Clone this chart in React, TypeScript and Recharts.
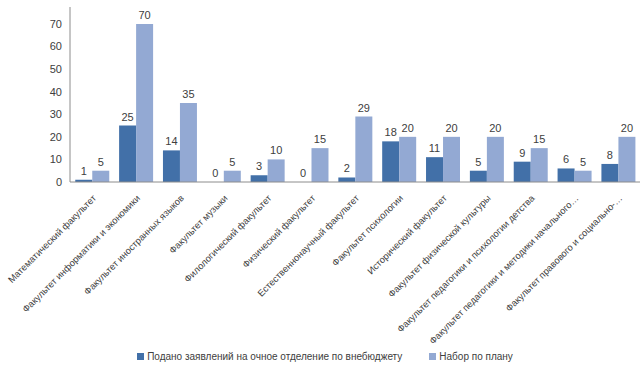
import { Bar, BarChart, Legend, XAxis, YAxis } from "recharts";

const faculties = [
  "Математический факультет",
  "Факультет информатики и экономики",
  "Факультет иностранных языков",
  "Факультет музыки",
  "Филологический факультет",
  "Физический факультет",
  "Естественнонаучный факультет",
  "Факультет психологии",
  "Исторический факультет",
  "Факультет физической культуры",
  "Факультет педагогики и психологии детства",
  "Факультет педагогики и методики начального…",
  "Факультет правового и социально-…",
];
const applied = [1, 25, 14, 0, 3, 0, 2, 18, 11, 5, 9, 6, 8];
const planned = [5, 70, 35, 5, 10, 15, 29, 20, 20, 20, 15, 5, 20];
const yTicks = [0, 10, 20, 30, 40, 50, 60, 70];

const data = faculties.map((name, i) => ({ name, applied: applied[i], planned: planned[i] }));

const font = "'Liberation Sans', Arial, sans-serif";
const darkBlue = "#4270a8";
const lightBlue = "#93a9d3";

function AngledTick({ x, y, payload }: any) {
  return (
    <g transform={`translate(${x + 2},${y + 6})`}>
      <text transform="rotate(-45)" textAnchor="end" dy={4} fontSize={9.4} fill="#404040" fontFamily={font}>
        {payload.value}
      </text>
    </g>
  );
}

function valueLabel(props: any) {
  const { x, y, width, value } = props;
  return (
    <text x={x + width / 2} y={y - 5} textAnchor="middle" fontSize={11} fill="#404040" fontFamily={font}>
      {value}
    </text>
  );
}

function ChartLegend() {
  const items = [
    { name: "Подано заявлений на очное отделение по внебюджету", color: darkBlue },
    { name: "Набор по плану", color: lightBlue },
  ];
  return (
    <div style={{ display: "flex", justifyContent: "center", gap: 27, fontSize: 10, fontFamily: font, color: "#404040", paddingLeft: 10 }}>
      {items.map((it) => (
        <span key={it.name} style={{ display: "flex", alignItems: "center" }}>
          <span style={{ width: 7, height: 7, background: it.color, marginRight: 3, display: "inline-block" }} />
          {it.name}
        </span>
      ))}
    </div>
  );
}

export default function App() {
  return (
    <div style={{ position: "fixed", left: 0, top: 0, background: "#fff" }}>
      <BarChart width={640} height={370} data={data} margin={{ top: 7, right: 0, bottom: 8, left: 0 }} barCategoryGap="12%" barGap={0}>
        <XAxis dataKey="name" interval={0} height={169} tick={<AngledTick />} tickLine={false} axisLine={{ stroke: "#8c8c8c" }} />
        <YAxis
          domain={[0, 77.5]}
          ticks={yTicks}
          width={70}
          tick={{ fill: "#404040", fontSize: 11, fontFamily: font }}
          tickLine={false}
          axisLine={{ stroke: "#8c8c8c" }}
        />
        <Legend verticalAlign="bottom" content={<ChartLegend />} />
        <Bar dataKey="applied" name="Подано заявлений на очное отделение по внебюджету" fill={darkBlue} minPointSize={0.01} isAnimationActive={false} label={valueLabel} />
        <Bar dataKey="planned" name="Набор по плану" fill={lightBlue} minPointSize={0.01} isAnimationActive={false} label={valueLabel} />
      </BarChart>
    </div>
  );
}
